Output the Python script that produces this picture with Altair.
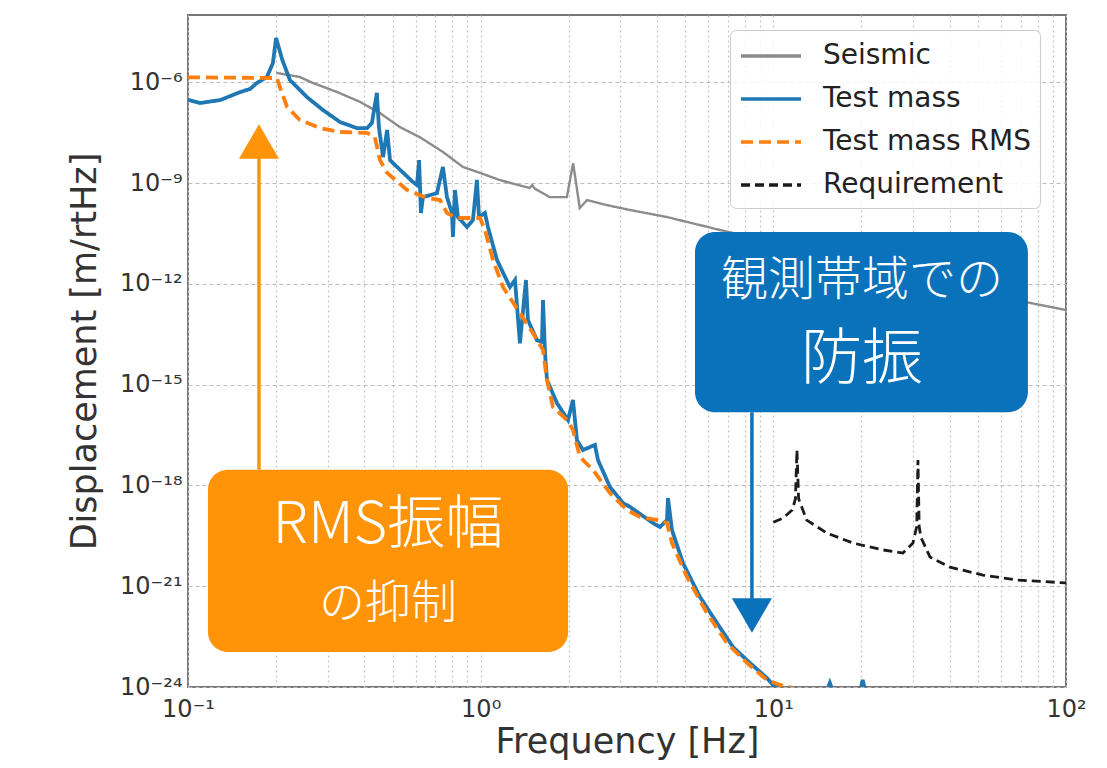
import altair as alt
import pandas as pd

# ---------------- data ----------------
# (frequency [Hz], displacement [m/rtHz])
seismic = [
    (0.200, 1.9e-6), (0.241, 1.43e-6), (0.267, 9.5e-7), (0.323, 5.1e-7),
    (0.387, 2.6e-7), (0.453, 1.2e-7), (0.530, 4.6e-8), (0.620, 2.3e-8),
    (0.743, 8.4e-9), (0.870, 3.0e-9), (0.995, 2.0e-9), (1.16, 1.23e-9),
    (1.47, 7.1e-10), (1.50, 8.7e-10), (1.53, 6.8e-10), (1.72, 3.8e-10),
    (1.97, 3.8e-10), (2.07, 3.9e-9), (2.18, 1.8e-10), (2.31, 3.1e-10),
    (2.70, 2.2e-10), (3.24, 1.57e-10), (4.33, 9.7e-11), (6.57, 4.0e-11),
    (75.3, 2.7e-13), (99.9, 1.66e-13),
]

test_mass = [
    (0.100, 3.0e-7), (0.110, 2.4e-7), (0.129, 2.95e-7), (0.151, 5.1e-7),
    (0.163, 6.3e-7), (0.172, 9.5e-7), (0.186, 1.43e-6), (0.195, 3.7e-6),
    (0.200, 2.07e-5), (0.210, 4.6e-6), (0.223, 1.16e-6), (0.255, 3.6e-7),
    (0.289, 1.49e-7), (0.331, 6.5e-8), (0.378, 4.3e-8), (0.409, 4.3e-8),
    (0.425, 6.1e-8), (0.442, 4.8e-7), (0.449, 4.6e-8), (0.464, 5.9e-9),
    (0.479, 3.8e-8), (0.490, 4.8e-9), (0.518, 3.0e-9), (0.587, 1.07e-9),
    (0.606, 8.7e-10), (0.616, 4.8e-9), (0.625, 1.28e-10), (0.635, 3.8e-10),
    (0.709, 5.0e-10), (0.743, 3.0e-9), (0.767, 3.8e-10), (0.798, 1.28e-10),
    (0.804, 2.5e-11), (0.817, 6.2e-10), (0.836, 9.7e-11), (0.898, 4.9e-11),
    (0.941, 7.9e-11), (0.971, 1.23e-9), (0.987, 9.7e-11), (1.034, 1.28e-10),
    (1.059, 4.9e-11), (1.137, 5.1e-12), (1.259, 8.0e-13), (1.310, 1.3e-12),
    (1.362, 1.7e-14), (1.428, 1.3e-12), (1.450, 8.4e-14), (1.557, 2.1e-14),
    (1.620, 1.85e-14), (1.633, 3.3e-13), (1.659, 8.7e-15), (1.685, 1.37e-15),
    (1.823, 2.8e-16), (1.988, 8.8e-17), (2.067, 3.5e-16), (2.133, 2.2e-17),
    (2.236, 1.13e-17), (2.457, 1.6e-17), (2.516, 5.7e-18), (2.765, 9.0e-19),
    (3.063, 3.0e-19), (3.236, 2.3e-19), (3.879, 7.6e-20), (4.099, 5.8e-20),
    (4.331, 9.3e-20), (4.365, 4.2e-19), (4.505, 4.7e-20), (4.911, 4.9e-21),
    (5.613, 4.8e-22), (6.418, 8.0e-23), (7.278, 1.55e-23), (8.318, 5.2e-24),
    (9.508, 1.85e-24), (9.968, 1.15e-24), (11.4, 5e-25), (14.8, 4e-25),
    (15.6, 1.32e-24), (16.4, 4e-25), (19.5, 4e-25), (20.2, 1.62e-24),
    (21.0, 4e-25), (100.0, 1e-25),
]

test_mass_rms = [
    (0.100, 1.4e-6), (0.201, 1.33e-6), (0.206, 7.2e-7), (0.218, 1.83e-7),
    (0.241, 7.5e-8), (0.283, 4.3e-8), (0.331, 3.3e-8), (0.409, 3.1e-8),
    (0.435, 2.3e-8), (0.453, 4.8e-9), (0.479, 2.0e-9), (0.560, 6.2e-10),
    (0.655, 3.6e-10), (0.726, 3.1e-10), (0.767, 1.28e-10), (0.830, 9.1e-11),
    (0.995, 9.1e-11), (1.034, 4.0e-11), (1.102, 5.1e-12), (1.192, 8.0e-13),
    (1.362, 1.35e-13), (1.509, 3.4e-14), (1.633, 1.07e-14), (1.685, 1.37e-15),
    (1.766, 2.15e-16), (1.972, 8.8e-17), (2.067, 4.5e-17), (2.184, 7.0e-18),
    (2.419, 2.9e-18), (2.765, 5.9e-19), (3.161, 1.85e-19), (3.501, 1.15e-19),
    (4.034, 9.3e-20), (4.331, 7.6e-20), (4.505, 1.93e-20), (5.068, 1.88e-21),
    (5.931, 1.6e-22), (6.944, 2.0e-23), (8.125, 5.2e-24), (9.508, 1.62e-24),
    (10.53, 1.15e-24), (11.39, 1.0e-24), (12.5, 5e-25),
]

requirement = [
    (10.0, 8.0e-20), (10.8, 1.07e-19), (11.6, 1.85e-19), (11.9, 4.0e-19),
    (12.04, 1.13e-17), (12.2, 4.0e-19), (13.0, 9.3e-20), (15.25, 3.8e-20),
    (18.7, 1.93e-20), (23.7, 1.2e-20), (27.7, 9.7e-21), (30.0, 1.93e-20),
    (30.9, 6.0e-20), (31.2, 5.7e-18), (31.5, 6.0e-20), (31.9, 2.9e-20),
    (34.3, 7.4e-21), (40.1, 3.7e-21), (52.0, 2.15e-21), (68.0, 1.53e-21),
    (100.0, 1.25e-21),
]

series_names = ["Seismic", "Test mass", "Test mass RMS", "Requirement"]
series_data = [seismic, test_mass, test_mass_rms, requirement]

x_major = [0.1, 1, 10, 100]
x_major_labels = ["10⁻¹", "10⁰", "10¹", "10²"]
x_minor = [m * 10.0 ** e for e in (-1, 0, 1) for m in range(2, 10)]
y_major = [1e-24, 1e-21, 1e-18, 1e-15, 1e-12, 1e-9, 1e-6]
y_major_labels = ["10⁻²⁴", "10⁻²¹", "10⁻¹⁸", "10⁻¹⁵", "10⁻¹²", "10⁻⁹", "10⁻⁶"]

# annotation boxes: (f_left, f_right, d_top, d_bottom)
box_orange = (0.117, 1.99, 2.9e-18, 1.1e-23)
box_blue = (5.40, 74.1, 3.5e-11, 1.5e-16)
# annotation texts: (f, d, text, font size)
orange_texts = [(0.482, 6.2e-20, "RMS振幅", 58), (0.482, 3.0e-22, "の抑制", 46)]
blue_texts = [(20.1, 1.2e-12, "観測帯域での", 47), (20.1, 5.0e-15, "防振", 61)]
# arrows: shaft (f, d_from, d_to) and head (f, d)
orange_arrow = (0.1748, 2.9e-18, 1.2e-8)
orange_head = (0.1748, 1.72e-8)
blue_arrow = (8.45, 1.5e-16, 3.0e-22)
blue_head = (8.45, 1.34e-22)

# ---------------- styles ----------------
series_colors = ["#8c8c8c", "#1f77b4", "#ff7f0e", "#1b1b1b"]
series_dashes = [[1, 0], [1, 0], [12, 6], [9, 5]]
series_widths = [2.4, 3.8, 3.8, 2.8]
ORANGE = "#ff9408"
BLUE = "#0a72bb"
FONT = "DejaVu Sans"
JP = "Noto Sans CJK JP"


def label_expr(values, labels):
    expr = "''"
    for v, lab in reversed(list(zip(values, labels))):
        expr = f"datum.value == {v!r} ? '{lab}' : {expr}"
    return expr


x_scale = alt.Scale(type="log", domain=[0.1, 100], nice=False)
y_scale = alt.Scale(type="log", domain=[1e-24, 1e-4], nice=False)

x_axis = alt.Axis(
    values=sorted(x_major + x_minor),
    labelExpr=label_expr(x_major, x_major_labels),
    labelFont=FONT, labelFontSize=24, labelColor="#333", labelPadding=10,
    labelOverlap=False, labelFlush=False,
    grid=True, gridColor="#c4c4c4", gridDash=[2, 3], gridWidth=1.2,
    ticks=False, domain=False,
    title="Frequency [Hz]", titleFont=FONT, titleFontSize=35,
    titleFontWeight="normal", titleColor="#333",
    titleX=439, titleY=65, titleBaseline="alphabetic", titleAlign="center",
)
y_axis = alt.Axis(
    values=y_major,
    labelExpr=label_expr(y_major, y_major_labels),
    labelFont=FONT, labelFontSize=24, labelColor="#333", labelPadding=6,
    labelOverlap=False, labelFlush=False,
    grid=True, gridColor="#bdbdbd", gridDash=[4, 3], gridWidth=1.2,
    ticks=False, domain=False,
    title="Displacement [m/rtHz]", titleFont=FONT, titleFontSize=35,
    titleFontWeight="normal", titleColor="#333",
    titleX=-93, titleY=336, titleBaseline="alphabetic", titleAlign="center",
    titleAngle=270,
)

X = alt.X("f:Q", scale=x_scale, axis=x_axis)
Y = alt.Y("d:Q", scale=y_scale, axis=y_axis)

legend = alt.Legend(
    title=None, orient="none", legendX=542, legendY=15, direction="vertical",
    symbolType="M-2,0L2,0", symbolSize=900, symbolOffset=15,
    symbolFillColor="transparent", symbolStrokeWidth=3.6,
    labelFont=FONT, labelFontSize=28,
    labelColor="#222", rowPadding=12, labelOffset=35, padding=9,
    fillColor="rgba(255,255,255,0.85)", strokeColor="#cccccc", cornerRadius=6,
    labelLimit=500,
)

layers = []
for name, pts, w in zip(series_names, series_data, series_widths):
    df = pd.DataFrame(pts, columns=["f", "d"])
    df["series"] = name
    layers.append(
        alt.Chart(df).mark_line(clip=True, strokeWidth=w).encode(
            x=X, y=Y,
            color=alt.Color("series:N", scale=alt.Scale(domain=series_names, range=series_colors), legend=legend),
            strokeDash=alt.StrokeDash("series:N", scale=alt.Scale(domain=series_names, range=series_dashes), legend=legend),
        )
    )

# annotation: boxes
for box, col in ((box_orange, ORANGE), (box_blue, BLUE)):
    bdf = pd.DataFrame([{"f": box[0], "f2": box[1], "d": box[2], "d2": box[3]}])
    layers.append(
        alt.Chart(bdf).mark_rect(color=col, cornerRadius=20).encode(
            x=X, x2="f2", y=Y, y2="d2"
        )
    )

# arrows: shafts
for arr, col in ((orange_arrow, ORANGE), (blue_arrow, BLUE)):
    adf = pd.DataFrame([{"f": arr[0], "d": arr[1], "d2": arr[2]}])
    layers.append(
        alt.Chart(adf).mark_rule(color=col, strokeWidth=3.5).encode(x=X, y=Y, y2="d2")
    )

# arrow heads
for head, shape, col in ((orange_head, "triangle-up", ORANGE), (blue_head, "triangle-down", BLUE)):
    hdf = pd.DataFrame([{"f": head[0], "d": head[1]}])
    layers.append(
        alt.Chart(hdf).mark_point(shape=shape, filled=True, size=1600, color=col,
                                  opacity=1, strokeWidth=0).encode(x=X, y=Y)
    )

# annotation texts
for texts in (orange_texts, blue_texts):
    tdf = pd.DataFrame(texts, columns=["f", "d", "label", "fs"])
    layers.append(
        alt.Chart(tdf).mark_text(color="white", font=JP, align="center",
                                 baseline="middle", fontWeight=300).encode(
            x=X, y=Y, text="label:N", size=alt.Size("fs:Q", scale=None)
        )
    )

chart = alt.layer(*layers).properties(
    width=878, height=672,
    autosize=alt.AutoSizeParams(type="none"),
    padding={"left": 180, "top": 7, "right": 25, "bottom": 74},
    background="white",
).configure_view(stroke="#777777", strokeWidth=2)

chart.save("out.html", embed_options={"renderer": "svg", "actions": False})
